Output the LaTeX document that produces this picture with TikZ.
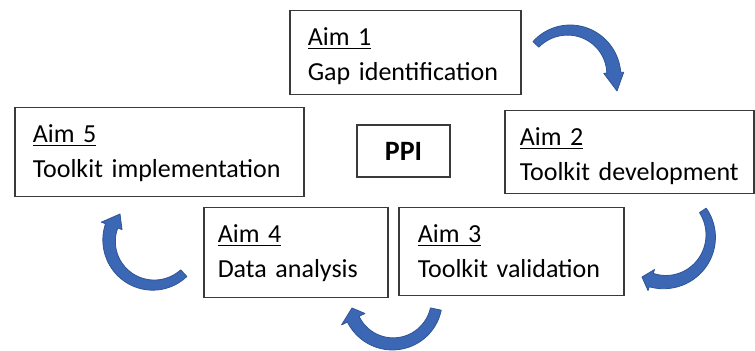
\documentclass[tikz,border=0pt]{standalone}
\usepackage{fontspec}
\setmainfont{Carlito}

\definecolor{arrowblue}{HTML}{3C67B5}
\definecolor{arrowedge}{HTML}{2F5597}
\definecolor{boxline}{HTML}{3A3A3A}

% underlined heading of a box
\newcommand\aimline[1]{\setbox0=\hbox{#1}\rlap{\rule[-1.8pt]{\wd0}{0.65pt}}\box0}

% tapered circular block arrow:
% centre x, centre y, radius, tail angle, head angle, tail half-width,
% body half-width at the head, head half-width, tip coordinate
\newcommand\blockarc[9]{%
  \filldraw[arcarrow]
    plot[domain=#4:#5,samples=50,variable=\t]
      ({#1+(#3+#6+(#7-#6)*(\t-(#4))/((#5)-(#4)))*cos(\t)},
       {#2+(#3+#6+(#7-#6)*(\t-(#4))/((#5)-(#4)))*sin(\t)})
    -- ({#1+(#3+#8)*cos(#5)},{#2+(#3+#8)*sin(#5)})
    -- #9
    -- ({#1+(#3-#8)*cos(#5)},{#2+(#3-#8)*sin(#5)})
    -- plot[domain=#5:#4,samples=50,variable=\t]
      ({#1+(#3-#6-(#7-#6)*(\t-(#4))/((#5)-(#4)))*cos(\t)},
       {#2+(#3-#6-(#7-#6)*(\t-(#4))/((#5)-(#4)))*sin(\t)})
    -- cycle;}

\tikzset{
  aimbox/.style={draw=boxline, line width=0.75pt, anchor=north west,
    inner ysep=0pt, align=left, text height=17.5pt,
    font=\fontsize{13pt}{17.5pt}\selectfont},
  ppibox/.style={draw=boxline, line width=0.75pt, inner sep=0pt,
    minimum width=46.5pt, minimum height=26pt,
    font=\fontsize{14pt}{16pt}\selectfont\bfseries},
  arcarrow/.style={fill=arrowblue, draw=arrowedge, line width=0.4pt,
    line join=round}
}

\begin{document}
\begin{tikzpicture}[x=0.5pt,y=0.5pt]
\useasboundingbox (0,0) rectangle (755,351);

% the five aims
\node[aimbox, inner xsep=9pt, text width=97.5pt, minimum width=115.5pt,
      text depth=24.5pt] (aim1) at (289,341)
  {\aimline{Aim 1}\\\mbox{Gap identification}};
\node[aimbox, inner xsep=7.5pt, text width=109.5pt, minimum width=124.5pt,
      text depth=24pt] (aim2) at (504,241)
  {\aimline{Aim 2}\\\mbox{Toolkit development}};
\node[aimbox, inner xsep=9.5pt, text width=93.5pt, minimum width=112.5pt,
      text depth=26.5pt] (aim3) at (398,144)
  {\aimline{Aim 3}\\\mbox{Toolkit validation}};
\node[aimbox, inner xsep=7pt, text width=78pt, minimum width=92pt,
      text depth=27.5pt] (aim4) at (203,144)
  {\aimline{Aim 4}\\\mbox{Data analysis}};
\node[aimbox, inner xsep=9pt, text width=126.5pt, minimum width=144.5pt,
      text depth=27pt] (aim5) at (14,244)
  {\aimline{Aim 5}\\\mbox{Toolkit implementation}};

% centre label
\node[ppibox] (ppi) at (403.5,200) {PPI};

% curved arrows running clockwise from aim to aim
\coordinate (tip12) at (617,260);
\coordinate (tip23) at (642,74);
\coordinate (tip34) at (352,43);
\coordinate (tip45) at (120,137);
\blockarc{568.8}{275.9}{45}{137}{3}{4}{7}{10}{(tip12)}
\blockarc{664.7}{114.9}{46}{34}{-107}{4}{7}{11}{(tip23)}
\blockarc{392.8}{51.1}{44}{-12}{-154}{5.5}{6.5}{13}{(tip34)}
\blockarc{153.5}{110.3}{44.4}{-47}{-199.5}{4.5}{6.5}{11}{(tip45)}
\end{tikzpicture}
\end{document}
